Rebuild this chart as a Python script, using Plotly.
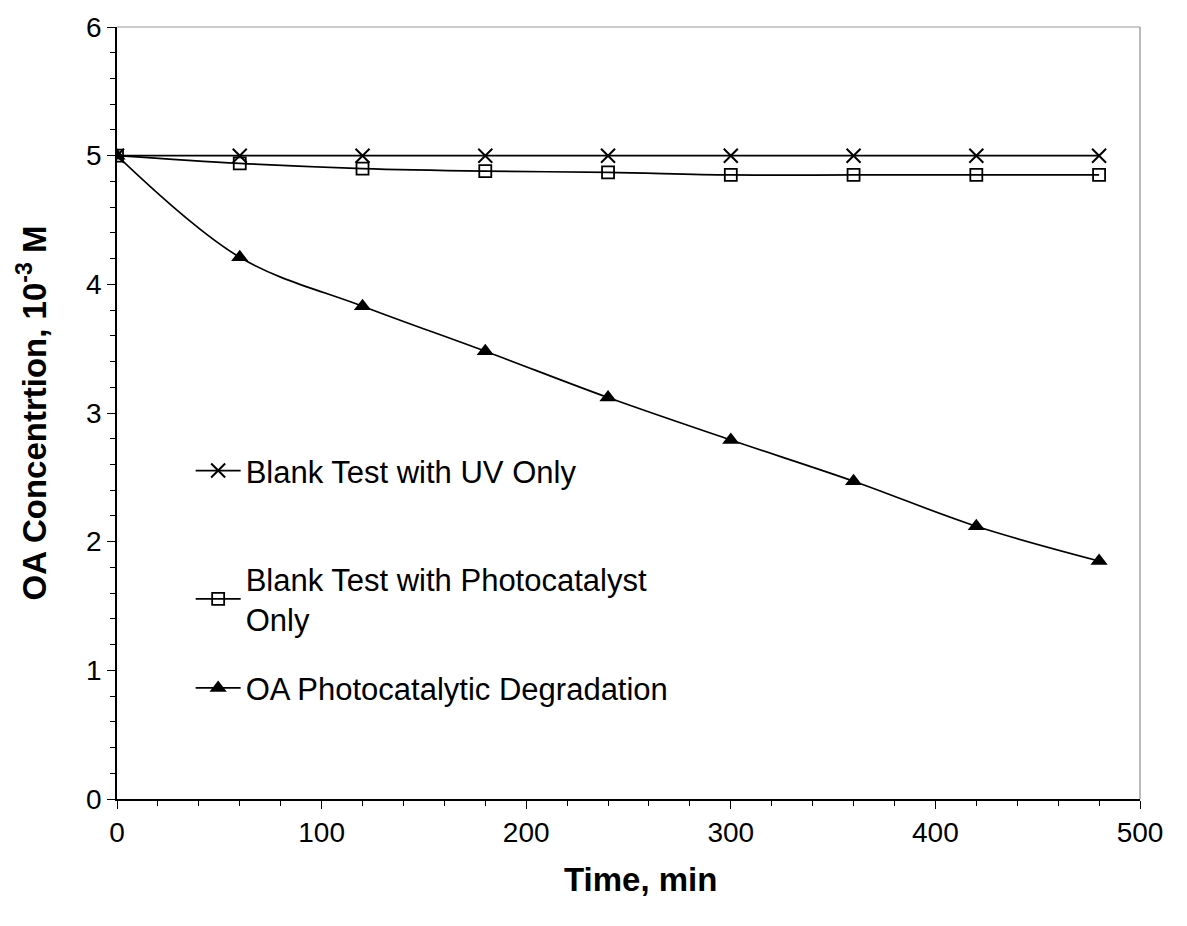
import plotly.graph_objects as go

time_min = [0, 60, 120, 180, 240, 300, 360, 420, 480]
uv_only = [5.0, 5.0, 5.0, 5.0, 5.0, 5.0, 5.0, 5.0, 5.0]
photocat_only = [5.0, 4.94, 4.90, 4.88, 4.87, 4.85, 4.85, 4.85, 4.85]
oa_degradation = [5.0, 4.21, 3.83, 3.48, 3.12, 2.79, 2.47, 2.12, 1.85]

names = ["Blank Test with UV Only",
         "Blank Test with Photocatalyst<br>Only",
         "OA Photocatalytic Degradation"]

FONT = "Arial, Liberation Sans, sans-serif"

fig = go.Figure()
fig.add_trace(go.Scatter(
    x=time_min, y=uv_only, name=names[0], mode="lines+markers",
    line=dict(color="black", width=1.7, shape="spline"),
    marker=dict(symbol="x-thin-open", size=14, color="black",
                line=dict(color="black", width=2)),
    legend="legend"))
fig.add_trace(go.Scatter(
    x=time_min, y=photocat_only, name=names[1], mode="lines+markers",
    line=dict(color="black", width=1.7, shape="spline"),
    marker=dict(symbol="square-open", size=12, color="black",
                line=dict(color="black", width=1.8)),
    legend="legend2"))
fig.add_trace(go.Scatter(
    x=time_min, y=oa_degradation, name=names[2], mode="lines+markers",
    line=dict(color="black", width=1.7, shape="spline"),
    marker=dict(symbol="triangle-up", size=15, color="black"),
    legend="legend3"))

tick_font = dict(family=FONT, size=28, color="black")
leg_font = dict(size=31, family=FONT, color="black")

def leg(ypos):
    return dict(x=0.072, y=ypos, xanchor="left", yanchor="middle",
                bgcolor="rgba(0,0,0,0)", borderwidth=0,
                font=leg_font, itemwidth=45)

fig.update_layout(
    width=1187, height=926,
    margin=dict(l=117, r=47, t=25, b=127),
    plot_bgcolor="white", paper_bgcolor="white",
    font=dict(family=FONT, color="black"),
    showlegend=True,
    legend=leg(0.425),
    legend2=leg(0.259),
    legend3=leg(0.1434),
    xaxis=dict(range=[0, 500], dtick=100, showgrid=False, zeroline=False,
               showline=True, linecolor="black", linewidth=1.5,
               ticks="outside", ticklen=8, tickcolor="black", tickwidth=1,
               tickfont=tick_font,
               minor=dict(dtick=20, ticks="outside", ticklen=5, tickcolor="black")),
    yaxis=dict(range=[0, 6], dtick=1, showgrid=False, zeroline=False,
               showline=True, linecolor="black", linewidth=1.5,
               ticks="outside", ticklen=8, tickcolor="black", tickwidth=1,
               tickfont=tick_font,
               minor=dict(dtick=0.2, ticks="outside", ticklen=5, tickcolor="black"),
               title=dict(text="<b>OA Concentrtion, 10<sup>-3</sup> M</b>",
                          font=dict(size=33, family=FONT),
                          standoff=30)),
)

fig.add_annotation(text="<b>Time, min</b>", xref="paper", yref="paper",
                   x=0.512, y=-0.1047, xanchor="center", yanchor="middle",
                   showarrow=False, font=dict(size=33, family=FONT, color="black"))

# thin grey top and right frame lines
fig.add_shape(type="line", xref="paper", yref="paper", x0=0, x1=1, y0=1, y1=1,
              line=dict(color="#999999", width=1))
fig.add_shape(type="line", xref="paper", yref="paper", x0=1, x1=1, y0=0, y1=1,
              line=dict(color="#777777", width=1))

fig.write_html("out.html")
